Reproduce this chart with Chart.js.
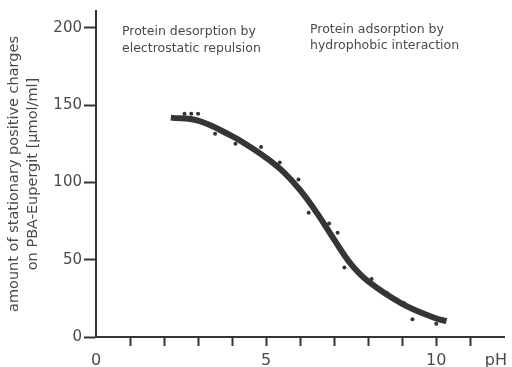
<html>
<head>
<title>Stationary positive charges vs pH</title>
<script src="https://cdn.jsdelivr.net/npm/chart.js"></script>
<style>
  html, body { margin: 0; padding: 0; background: #fff; }
  .chart-box { width: 512px; height: 367px; position: relative; }
</style>
</head>
<body>
<div class="chart-box">
  <canvas id="phChart"></canvas>
</div>
<script>
// measured points (pH, amount in umol/ml)
const phMeasured = [2.6, 2.8, 3.0, 3.5, 4.1, 4.85, 5.4, 5.95, 6.25, 6.85, 7.1, 7.3, 8.1, 8.55, 9.05, 9.3, 10.0];
const chargeMeasured = [144.5, 144.5, 144.5, 131.5, 125, 123, 113, 102, 80.5, 73.5, 67.5, 45, 37.5, 28.5, 22, 11.5, 8.5];

// fitted curve
const phCurve = [2.2, 3.0, 4.0, 4.5, 5.0, 5.5, 6.0, 6.5, 7.0, 7.5, 8.0, 9.0, 10.0, 10.3];
const chargeCurve = [142, 140, 130, 123.5, 116, 107, 95, 80, 63, 47, 36, 21.5, 12, 10.3];

const xTicks = [0, 1, 2, 3, 4, 5, 6, 7, 8, 9, 10, 11, 11.75];
const xLabels = ['0', '', '', '', '', '5', '', '', '', '', '10', '', 'pH'];
const yTicks = [0, 50, 100, 150, 200];

const yTitle = ['amount of stationary positive charges', 'on PBA-Eupergit [\u00b5mol/ml]'];
const leftNote = ['Protein desorption by', 'electrostatic repulsion'];
const rightNote = ['Protein adsorption by', 'hydrophobic interaction'];

const ink = '#353535';
const textInk = '#4a4a4a';
const fontFamily = '"DejaVu Sans", Verdana, sans-serif';

// small text notes above the curve
const notesPlugin = {
  id: 'notes',
  afterDraw(chart) {
    const ctx = chart.ctx;
    ctx.save();
    ctx.fillStyle = textInk;
    ctx.font = '12.5px ' + fontFamily;
    ctx.textBaseline = 'alphabetic';
    ctx.textAlign = 'left';
    leftNote.forEach((t, i) => ctx.fillText(t, 122, 35 + i * 16.5));
    rightNote.forEach((t, i) => ctx.fillText(t, 310, 33 + i * 16));
    ctx.restore();
  }
};

const ctx = document.getElementById('phChart').getContext('2d');
new Chart(ctx, {
  type: 'scatter',
  data: {
    datasets: [
      {
        label: 'fit',
        data: phCurve.map((x, i) => ({ x: x, y: chargeCurve[i] })),
        showLine: true,
        borderColor: ink,
        borderWidth: 6,
        borderCapStyle: 'butt',
        tension: 0.4,
        pointRadius: 0,
        order: 2
      },
      {
        label: 'measured',
        data: phMeasured.map((x, i) => ({ x: x, y: chargeMeasured[i] })),
        backgroundColor: ink,
        borderColor: ink,
        pointRadius: 2,
        borderWidth: 0,
        order: 1
      }
    ]
  },
  options: {
    responsive: true,
    maintainAspectRatio: false,
    animation: false,
    layout: { padding: { top: 10, right: 4, left: 0, bottom: 0 } },
    plugins: {
      legend: { display: false },
      tooltip: { enabled: false }
    },
    scales: {
      x: {
        type: 'linear',
        min: 0,
        max: 12,
        afterBuildTicks: (scale) => { scale.ticks = xTicks.map(v => ({ value: v })); },
        afterFit: (scale) => { scale.height = 30; },
        border: { color: ink, width: 2 },
        grid: {
          drawOnChartArea: false,
          tickLength: 9,
          tickWidth: 2,
          tickColor: (c) => (c.tick && c.tick.value > 0 && c.tick.value <= 11) ? ink : 'rgba(0,0,0,0)'
        },
        ticks: {
          autoSkip: false,
          maxRotation: 0,
          padding: 5,
          color: textInk,
          font: { family: fontFamily, size: 16 },
          callback: (v, i) => xLabels[i]
        }
      },
      y: {
        min: 0,
        max: 211,
        afterBuildTicks: (scale) => { scale.ticks = yTicks.map(v => ({ value: v })); },
        afterFit: (scale) => { scale.width = 96; },
        border: { color: ink, width: 2 },
        grid: {
          drawOnChartArea: false,
          tickLength: 12,
          tickWidth: 2,
          tickColor: ink
        },
        ticks: {
          padding: 2,
          color: textInk,
          font: { family: fontFamily, size: 15 }
        },
        title: {
          display: true,
          text: yTitle,
          color: textInk,
          font: { family: fontFamily, size: 14.5, lineHeight: 1.3 },
          padding: { top: 5, bottom: 0 }
        }
      }
    }
  },
  plugins: [notesPlugin]
});
</script>
</body>
</html>
